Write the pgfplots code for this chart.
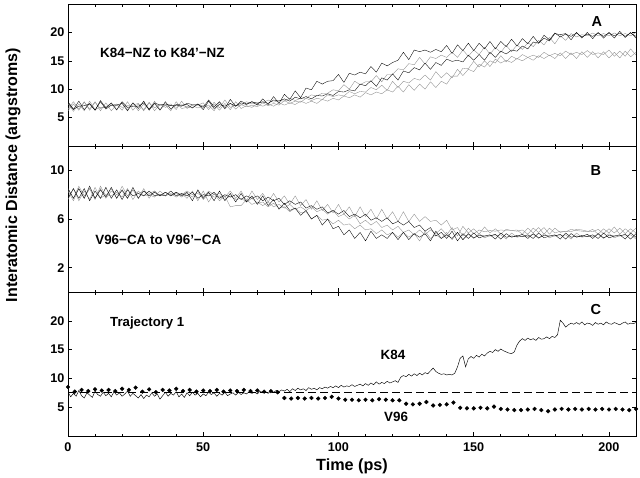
\documentclass[border=0pt]{standalone}
\usepackage{fontspec}
\setmainfont{Liberation Sans}
\usepackage{pgfplots}
\usepackage{pgfplotstable}
\pgfplotsset{compat=1.18}

\pgfplotstableread{
t a1 a2 a3 a4 a5
0 7.6 6.5 7.5 6.2 7.8
2 6.4 7.8 6.1 7.4 6.5
4 7.9 6.5 7.4 6.3 7.0
6 6.4 7.8 6.2 7.7 7.1
8 7.5 6.3 7.9 6.5 7.4
10 6.3 7.7 6.4 7.8 6.3
12 7.8 6.6 6.8 6.2 8.0
14 6.5 7.0 6.8 7.6 6.7
16 7.2 7.1 7.5 6.2 7.6
18 7.2 7.4 6.3 7.3 6.4
20 7.5 6.8 7.7 6.3 7.8
22 6.2 7.1 6.4 7.8 6.8
24 7.6 7.2 7.6 6.3 7.0
26 6.6 7.5 6.2 7.4 7.0
28 7.9 6.2 7.4 6.4 7.6
30 6.3 7.6 6.4 7.7 6.5
32 7.5 6.7 7.9 6.2 7.6
34 6.3 7.3 6.4 7.3 7.2
36 7.8 7.1 7.2 6.8 7.4
38 6.5 7.4 6.2 7.2 7.1
40 7.3 6.4 7.8 6.8 7.2
42 7.2 7.9 6.6 7.2 7.0
44 7.3 6.6 6.8 6.9 7.5
46 6.7 7.2 6.7 7.1 7.3
48 7.4 7.2 7.4 6.7 7.3
50 6.4 7.6 7.0 7.1 6.8
52 7.9 6.4 7.2 6.8 8.1
54 6.6 7.7 6.2 7.4 6.9
56 7.3 6.7 7.7 6.3 7.8
58 7.0 8.1 6.5 7.5 6.6
60 7.5 6.8 7.5 6.4 8.2
62 7.0 7.2 6.5 7.8 7.0
64 7.6 7.2 7.3 6.6 7.9
66 7.3 7.8 6.9 7.1 7.4
68 7.8 7.4 7.2 6.8 7.8
70 7.2 7.7 6.9 7.4 7.5
72 8.3 7.6 7.6 7.0 7.8
74 7.3 8.1 7.1 7.4 7.5
76 8.7 7.7 7.5 7.0 8.1
78 7.5 8.0 7.2 7.6 7.9
80 9.1 7.9 8.0 7.2 8.3
82 8.2 8.4 7.5 7.6 7.9
84 9.7 8.0 7.9 7.3 8.6
86 8.5 8.4 7.7 7.9 8.3
88 10.2 8.4 8.4 7.5 8.7
90 9.9 9.0 8.0 7.9 8.3
92 11.4 8.8 8.4 7.5 8.9
94 10.9 9.3 8.2 8.2 8.8
96 11.4 9.3 9.0 7.9 9.2
98 11.5 9.9 8.7 8.4 8.9
100 12.6 9.7 9.0 8.1 9.6
102 11.2 10.8 8.8 8.8 9.5
104 12.8 10.0 9.6 8.5 9.9
106 12.5 11.4 9.2 9.0 9.7
108 13.0 10.8 9.6 8.6 10.9
110 12.7 11.3 9.5 9.4 10.6
112 14.0 11.3 10.3 9.0 11.5
114 13.0 12.4 9.9 9.5 10.5
116 14.6 11.3 10.7 9.2 12.0
118 14.1 12.6 9.8 9.9 11.6
120 14.7 12.6 11.4 9.5 12.7
122 15.1 13.6 10.3 10.5 11.6
124 16.5 13.4 11.4 9.5 13.2
126 15.2 14.5 11.1 10.8 12.9
128 16.9 14.3 11.9 9.8 13.8
130 16.6 15.6 11.6 10.9 13.4
132 16.9 14.4 12.5 10.0 14.6
134 16.5 15.7 11.6 11.3 13.5
136 17.0 15.4 13.1 10.3 14.7
138 16.6 16.0 12.0 11.4 14.2
140 17.7 15.6 12.9 10.9 15.3
142 16.3 16.5 12.0 12.3 14.9
144 17.8 15.6 13.5 12.3 15.1
146 16.8 16.9 12.4 13.7 14.8
148 18.1 15.8 13.5 13.6 16.0
150 16.8 16.9 13.1 14.9 15.1
152 18.1 16.1 14.4 13.9 16.1
154 17.1 17.4 13.9 15.0 15.1
156 18.4 16.2 15.0 14.0 16.5
158 17.1 17.3 14.6 15.3 15.6
160 18.4 16.5 15.9 14.6 16.7
162 17.5 17.7 14.8 15.1 16.2
164 18.8 16.6 15.8 14.7 16.9
166 17.6 17.8 15.3 15.4 16.7
168 18.9 17.0 16.1 15.0 17.6
170 18.0 18.2 15.6 15.6 17.1
172 19.3 17.5 16.0 15.1 18.3
174 18.1 18.6 15.6 15.9 18.1
176 19.5 17.8 16.5 15.4 19.0
178 18.7 19.1 15.9 16.0 18.5
180 19.9 18.0 16.3 15.4 19.8
182 19.2 19.4 15.9 16.4 19.6
184 19.7 18.6 16.7 15.4 19.8
186 19.3 19.8 16.1 16.4 18.7
188 19.9 19.2 16.5 15.4 20.0
190 19.2 19.6 16.1 16.6 19.0
192 19.7 19.4 16.8 15.6 20.0
194 19.3 19.9 16.1 16.6 18.9
196 19.9 19.4 16.4 15.5 20.0
198 19.3 19.8 16.1 16.6 19.0
200 19.9 19.4 16.9 15.5 20.0
202 19.4 19.9 15.8 16.5 19.0
204 19.9 19.4 16.7 15.5 20.2
206 19.3 19.8 15.8 16.7 19.1
208 19.9 19.4 17.1 15.7 20.0
210 19.3 20.0 16.0 16.5 19.0
}\tabA

\pgfplotstableread{
t b1 b2 b3 b4 b5
0 8.5 7.6 8.5 7.7 8.3
2 7.7 8.5 7.7 8.5 7.5
4 8.5 7.5 8.7 7.7 8.5
6 7.7 8.3 7.9 8.5 7.7
8 8.7 7.6 8.5 7.5 8.5
10 7.7 8.6 7.6 8.3 7.7
12 8.4 7.7 8.7 7.7 8.5
14 7.8 8.0 7.9 8.6 7.7
16 8.6 7.9 8.5 7.7 8.3
18 7.7 8.2 7.7 8.4 8.0
20 8.4 7.8 8.7 7.6 8.3
22 7.7 8.5 7.9 8.4 7.7
24 8.6 7.6 8.4 7.9 8.4
26 7.7 8.3 8.1 8.1 7.7
28 8.3 7.9 8.3 7.9 8.5
30 7.9 8.0 8.1 8.3 7.7
32 8.2 7.8 8.3 7.9 8.3
34 7.9 8.3 7.9 8.0 7.9
36 8.2 7.9 8.2 7.9 8.2
38 7.9 8.1 8.0 8.3 7.9
40 8.2 7.8 8.2 7.9 8.1
42 7.9 8.1 8.0 8.1 7.8
44 8.2 7.7 8.3 7.9 8.1
46 7.5 8.3 8.0 8.2 7.8
48 8.4 7.5 8.1 7.7 8.3
50 7.7 8.3 7.8 8.0 7.6
52 8.2 7.4 8.3 7.9 8.1
54 7.5 8.1 8.0 8.2 7.8
56 8.3 7.5 8.1 7.7 7.9
58 7.5 7.9 7.8 8.0 7.6
60 8.1 7.0 8.3 7.8 7.9
62 7.4 7.1 7.7 8.0 7.6
64 8.1 7.1 8.3 7.6 7.7
66 7.4 7.6 7.5 7.9 7.4
68 7.9 7.2 8.3 7.7 7.7
70 7.2 7.4 7.6 7.9 7.3
72 7.9 7.1 8.1 7.5 7.4
74 7.1 7.4 7.4 7.8 7.0
76 7.6 7.0 8.1 7.5 7.3
78 6.8 7.2 7.4 7.7 6.9
80 7.3 6.9 7.9 7.2 7.0
82 6.7 7.2 7.2 7.5 6.6
84 6.9 6.8 7.9 7.2 6.9
86 6.3 7.0 7.1 7.4 6.5
88 6.7 6.7 7.6 6.9 6.6
90 6.0 7.0 6.8 7.1 6.0
92 6.3 6.6 7.5 6.8 6.3
94 5.5 6.8 6.7 7.0 5.9
96 6.0 6.4 7.2 6.5 6.0
98 5.2 6.7 6.5 6.7 5.6
100 5.4 6.2 7.2 6.4 5.9
102 4.7 6.4 6.4 6.7 5.5
104 5.1 6.0 7.0 6.2 5.6
106 4.4 6.3 6.2 6.4 5.2
108 4.9 5.6 7.0 6.1 5.5
110 4.2 5.9 6.2 6.4 5.1
112 5.0 5.5 6.8 5.9 5.2
114 4.4 5.8 6.0 6.1 4.8
116 4.7 5.3 6.8 5.8 5.1
118 4.4 5.5 6.0 6.1 4.7
120 4.9 5.1 6.6 5.6 4.9
122 4.3 5.4 5.8 5.8 4.5
124 4.9 4.9 6.6 5.5 4.9
126 4.3 5.1 5.8 5.8 4.5
128 4.8 4.7 6.4 5.3 4.8
130 4.5 5.1 5.8 5.5 4.2
132 4.8 4.7 6.2 5.0 5.0
134 4.2 5.1 5.8 5.3 4.4
136 5.0 4.8 5.9 4.6 4.7
138 4.4 5.2 5.5 4.9 4.4
140 4.7 4.7 5.9 4.4 4.9
142 4.4 5.3 5.1 5.0 4.3
144 4.9 4.6 5.3 4.2 4.9
146 4.3 5.4 4.6 4.8 4.3
148 4.8 4.85 5.25 4.4 4.75
150 4.45 5.2 4.8 4.85 4.4
152 4.65 4.75 5.1 4.45 4.8
154 4.6 5.35 4.95 4.6 4.45
156 4.7 4.85 5.05 4.6 4.65
158 4.35 5.2 5.0 4.75 4.6
160 4.85 4.75 5.1 4.35 4.7
162 4.5 5.15 5.05 4.8 4.35
164 4.6 5.05 5.05 4.5 4.85
166 4.55 5.1 5.0 4.65 4.5
168 4.75 4.75 5.1 4.55 4.6
170 4.4 5.25 4.75 4.7 4.55
172 4.8 4.85 5.25 4.4 4.75
174 4.45 5.3 4.9 4.85 4.4
176 4.65 4.75 5.3 4.45 4.8
178 4.6 5.25 4.75 4.6 4.45
180 4.7 4.85 5.25 4.6 4.65
182 4.35 5.0 4.9 4.75 4.6
184 4.85 4.95 5.0 4.35 4.7
186 4.5 5.15 4.95 4.8 4.35
188 4.6 5.05 5.15 4.5 4.85
190 4.55 5.0 5.1 4.65 4.5
192 4.75 4.95 5.0 4.55 4.6
194 4.4 5.15 4.95 4.7 4.55
196 4.8 4.75 5.15 4.4 4.75
198 4.45 5.2 4.8 4.85 4.4
200 4.65 4.85 5.2 4.45 4.8
202 4.6 5.35 4.85 4.6 4.45
204 4.7 4.75 5.25 4.6 4.65
206 4.35 5.2 4.8 4.75 4.6
208 4.85 4.85 5.2 4.35 4.7
210 4.5 5.25 4.85 4.8 4.35
}\tabB

\pgfplotstableread{
t k
0 7.6
1 6.8
2 7.4
3 6.9
4 7.9
5 7.0
6 6.6
7 7.5
8 7.1
9 6.7
10 7.8
11 7.2
12 6.9
13 7.6
14 7.0
15 7.4
16 6.8
17 7.7
18 7.1
19 7.5
20 6.9
21 7.3
22 7.8
23 6.9
24 7.4
25 7.0
26 6.6
27 7.2
28 6.5
29 7.1
30 6.8
31 7.5
32 6.9
33 7.3
34 6.4
35 7.0
36 7.6
37 6.9
38 7.4
39 7.1
40 7.7
41 6.8
42 7.3
43 6.7
44 7.5
45 7.0
46 7.6
47 7.1
48 7.4
49 6.8
50 7.3
51 7.0
52 7.6
53 7.2
54 7.5
55 6.9
56 7.4
57 7.1
58 7.6
59 7.0
60 7.3
61 7.5
62 7.1
63 7.6
64 7.2
65 7.5
66 7.3
67 7.7
68 7.4
69 7.6
70 7.3
71 7.8
72 7.5
73 7.7
74 7.4
75 7.9
76 7.6
77 7.9
78 7.7
79 8.0
80 7.8
81 8.1
82 7.7
83 8.2
84 7.9
85 8.3
86 8.0
87 8.2
88 7.9
89 8.4
90 8.1
91 8.3
92 8.0
93 8.4
94 8.2
95 8.5
96 8.3
97 8.6
98 8.4
99 8.7
100 8.4
101 8.8
102 8.5
103 8.7
104 8.6
105 8.9
106 8.6
107 8.8
108 9.0
109 8.7
110 9.1
111 8.8
112 9.2
113 8.9
114 9.4
115 9.0
116 9.3
117 9.1
118 9.5
119 9.2
120 9.4
121 9.6
122 9.3
123 10.2
124 10.5
125 10.3
126 10.7
127 10.4
128 10.8
129 10.5
130 10.9
131 10.6
132 11.0
133 10.8
134 11.3
135 11.8
136 11.2
137 10.9
138 10.7
139 10.8
140 10.6
141 10.7
142 10.6
143 10.9
144 12.0
145 13.5
146 13.9
147 12.0
148 13.4
149 13.8
150 13.5
151 14.0
152 13.7
153 14.2
154 13.9
155 14.4
156 14.7
157 14.5
158 15.0
159 14.7
160 15.1
161 14.8
162 14.6
163 14.4
164 14.3
165 14.6
166 15.8
167 16.5
168 16.9
169 16.6
170 17.0
171 16.7
172 16.9
173 16.6
174 17.1
175 16.8
176 16.9
177 17.2
178 16.9
179 17.3
180 17.1
181 17.6
182 20.1
183 19.6
184 18.9
185 19.3
186 19.6
187 19.4
188 19.7
189 19.4
190 19.8
191 19.3
192 19.6
193 19.5
194 19.2
195 19.7
196 19.4
197 19.6
198 19.3
199 19.8
200 19.5
201 19.4
202 19.7
203 19.5
204 19.3
205 19.6
206 19.8
207 19.4
208 19.6
209 19.5
210 19.7
}\tabK

\pgfplotstableread{
t v
0 8.5
2.5 7.7
5 8.0
7.5 7.8
10 8.1
12.5 7.9
15 8.0
17.5 7.8
20 8.2
22.5 8.0
25 8.4
27.5 7.7
30 8.1
32.5 7.6
35 8.0
37.5 7.9
40 8.2
42.5 7.8
45 8.0
47.5 7.7
50 7.9
52.5 7.8
55 8.0
57.5 7.7
60 7.9
62.5 7.8
65 8.0
67.5 7.8
70 7.9
72.5 7.7
75 7.8
77.5 7.6
80 6.6
82.5 6.5
85 6.6
87.5 6.5
90 6.6
92.5 6.5
95 6.6
97.5 6.8
100 6.5
102.5 6.3
105 6.3
107.5 6.2
110 6.3
112.5 6.2
115 6.4
117.5 6.3
120 6.2
122.5 6.2
125 5.6
127.5 5.5
130 5.6
132.5 5.9
135 5.3
137.5 5.4
140 5.5
142.5 5.8
145 4.9
147.5 4.8
150 4.8
152.5 4.9
155 4.8
157.5 5.1
160 4.7
162.5 4.6
165 4.5
167.5 4.5
170 4.6
172.5 4.7
175 4.5
177.5 4.3
180 4.6
182.5 4.7
185 4.6
187.5 4.7
190 4.6
192.5 4.7
195 4.6
197.5 4.7
200 4.6
202.5 4.7
205 4.6
207.5 4.5
210 4.7
}\tabV

\definecolor{lgray}{gray}{0.55}

\pgfplotsset{
  panel/.style={
    scale only axis, width=568pt, anchor=north west,
    xmin=0, xmax=210,
    xtick={0,50,100,150,200}, minor x tick num=4,
    tick align=inside, xtick pos=both, ytick pos=both,
    major tick length=4pt, minor tick length=2.5pt,
    axis line style={line width=0.8pt},
    every tick/.style={black, line width=0.6pt},
    /pgf/number format/assume math mode=true,
    tick label style={font=\bfseries\fontsize{12.6}{14}\selectfont},
    clip=true,
  },
  tr/.style={line width=0.35pt, black},
  tg/.style={line width=0.35pt, lgray},
}

\begin{document}
\begin{tikzpicture}
\path[use as bounding box] (0,0) rectangle (640pt,-477pt);

% Panel A
\begin{axis}[panel, at={(68pt,-4pt)}, height=142pt,
  ymin=0, ymax=25, ytick={5,10,15,20}, xticklabels={}]
  \addplot[tg] table[x=t,y=a3]{\tabA};
  \addplot[tg] table[x=t,y=a4]{\tabA};
  \addplot[tg] table[x=t,y=a2]{\tabA};
  \addplot[tr] table[x=t,y=a1]{\tabA};
  \addplot[tr] table[x=t,y=a5]{\tabA};
  \node[anchor=base west, font=\bfseries\fontsize{13.4}{15}\selectfont] at (axis cs:10.6,15.6) {K84−NZ to K84’−NZ};
  \node[anchor=base, font=\bfseries\fontsize{14.5}{16}\selectfont] at (axis cs:195.5,21.0) {A};
\end{axis}

% Panel B
\begin{axis}[panel, at={(68pt,-146pt)}, height=146pt,
  ymin=0, ymax=12, ytick={2,6,10}, xticklabels={}]
  \addplot[tg] table[x=t,y=b3]{\tabB};
  \addplot[tg] table[x=t,y=b2]{\tabB};
  \addplot[tg] table[x=t,y=b5]{\tabB};
  \addplot[tr] table[x=t,y=b4]{\tabB};
  \addplot[tr] table[x=t,y=b1]{\tabB};
  \node[anchor=base west, font=\bfseries\fontsize{13.4}{15}\selectfont] at (axis cs:8.8,3.87) {V96−CA to V96’−CA};
  \node[anchor=base, font=\bfseries\fontsize{14.5}{16}\selectfont] at (axis cs:195.2,9.56) {B};
\end{axis}

% Panel C
\begin{axis}[panel, at={(68pt,-292pt)}, height=144pt,
  ymin=0, ymax=25, ytick={5,10,15,20},
  xticklabel style={yshift=-3pt}]
  \addplot[black, line width=0.6pt, dash pattern=on 8pt off 4pt] coordinates {(0,7.6) (210,7.6)};
  \addplot[black, line width=0.45pt] table[x=t,y=k]{\tabK};
  \addplot[only marks, mark=*, mark size=1.9pt, black] table[x=t,y=v]{\tabV};
  \node[anchor=base west, font=\bfseries\fontsize{13.2}{15}\selectfont] at (axis cs:14.3,18.98) {Trajectory 1};
  \node[anchor=base west, font=\bfseries\fontsize{13.4}{15}\selectfont] at (axis cs:114.3,13.2) {K84};
  \node[anchor=base west, font=\bfseries\fontsize{13.4}{15}\selectfont] at (axis cs:115.6,2.5) {V96};
  \node[anchor=base, font=\bfseries\fontsize{14.5}{16}\selectfont] at (axis cs:195.2,21.1) {C};
\end{axis}

\node[rotate=90, anchor=base, font=\bfseries\fontsize{16}{18}\selectfont] at (17pt,-175pt) {Interatomic Distance (angstroms)};
\node[anchor=base, font=\bfseries\fontsize{16.2}{18}\selectfont] at (352pt,-470.5pt) {Time (ps)};
\end{tikzpicture}
\end{document}
